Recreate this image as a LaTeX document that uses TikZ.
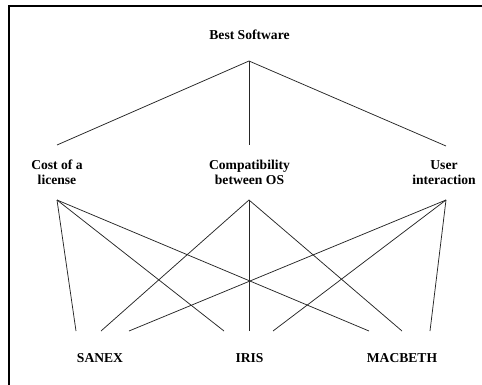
\documentclass[tikz,border=0pt]{standalone}
\usepackage{fontspec}
\setmainfont{Liberation Serif}
\begin{document}
\begin{tikzpicture}[x=1pt,y=-1pt,
  lbl/.style={font=\fontsize{13.6}{15.5}\selectfont\bfseries, align=center, inner sep=0pt, anchor=base},
  conn/.style={line width=0.75pt, black!85},
  frame/.style={line width=2pt, black}]
\useasboundingbox (0,0) rectangle (482,385);
\draw[frame] (9,385) -- (9,6) -- (482,6);
% labels
\node[lbl] (best) at (249.5,39.3) {Best Software};
\node[lbl] (cost) at (57,184.6) {Cost of a\\license};
\node[lbl] (comp) at (249.5,184.6) {Compatibility\\between OS};
\node[lbl] (user) at (444,184.6) {User\\interaction};
\node[lbl] (sanex) at (100,362.3) {SANEX};
\node[lbl] (iris) at (249.5,362.3) {IRIS};
\node[lbl] (macb) at (402,362.3) {MACBETH};
% connector ends
\coordinate (apex) at (249,61);
\coordinate (costT) at (57,145);
\coordinate (compT) at (249,145);
\coordinate (userT) at (446,146);
\coordinate (costB) at (57,200);
\coordinate (compB) at (249,200);
\coordinate (userB) at (446,200);
\coordinate (s1) at (76,331);
\coordinate (s2) at (101,331);
\coordinate (s3) at (129,331);
\coordinate (i1) at (224,331);
\coordinate (i2) at (249,331);
\coordinate (i3) at (273,331);
\coordinate (m1) at (369,331);
\coordinate (m2) at (402,331);
\coordinate (m3) at (430,331);
% top level
\draw[conn] (apex) -- (costT);
\draw[conn] (apex) -- (compT);
\draw[conn] (apex) -- (userT);
% bottom level
\draw[conn] (costB) -- (s1);
\draw[conn] (costB) -- (i1);
\draw[conn] (costB) -- (m1);
\draw[conn] (compB) -- (s2);
\draw[conn] (compB) -- (i2);
\draw[conn] (compB) -- (m2);
\draw[conn] (userB) -- (s3);
\draw[conn] (userB) -- (i3);
\draw[conn] (userB) -- (m3);
\end{tikzpicture}
\end{document}
